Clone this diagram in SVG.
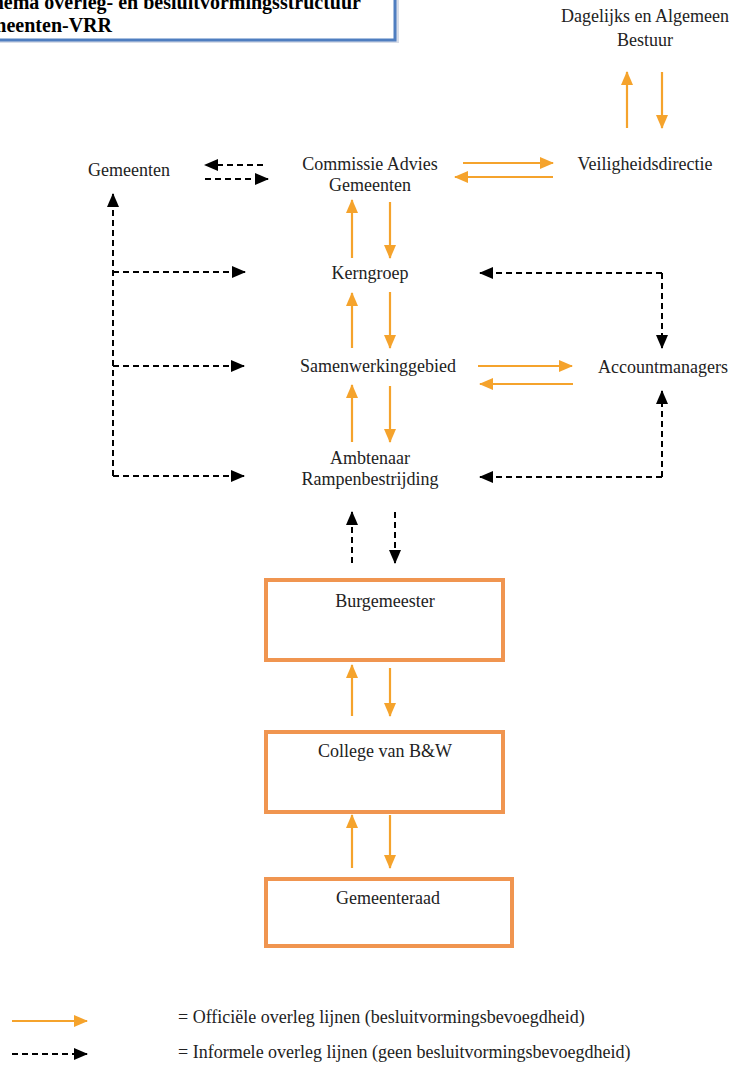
<svg xmlns="http://www.w3.org/2000/svg" width="734" height="1066" viewBox="0 0 734 1066">
<defs>
<marker id="ao" markerUnits="userSpaceOnUse" markerWidth="14" markerHeight="14" viewBox="0 0 14 14" refX="13" refY="7" orient="auto"><path d="M0,1 L14,7 L0,13 Z" fill="#f5a32c"/></marker>
<marker id="ab" markerUnits="userSpaceOnUse" markerWidth="14" markerHeight="14" viewBox="0 0 14 14" refX="13" refY="7" orient="auto"><path d="M0,1 L14,7 L0,13 Z" fill="#000"/></marker>
</defs>
<style>
text{font-family:"Liberation Serif","Times New Roman",serif;font-size:18px;fill:#222;}
.t{font-weight:bold;font-size:20px;fill:#000;}
.o{stroke:#f5a32c;stroke-width:2.2;fill:none;marker-end:url(#ao);}
.d{stroke:#000;stroke-width:2;stroke-dasharray:6,4;fill:none;}
.da{marker-end:url(#ab);}
.box{fill:#fff;stroke:#f09550;stroke-width:4;}
</style>
<rect width="734" height="1066" fill="#fff"/>
<g id="title">
<rect x="-10" y="-10" width="409" height="53" fill="#d8dde8"/>
<rect x="-10" y="-10" width="405" height="50" fill="#fff" stroke="#4f7ec0" stroke-width="3"/>
<text class="t" x="361" y="9" text-anchor="end">Schema overleg- en besluitvormingsstructuur</text>
<text class="t" x="112" y="32" text-anchor="end">Gemeenten-VRR</text>
</g>
<g id="bestuur"><text x="645" y="22" text-anchor="middle">Dagelijks en Algemeen</text><text x="645" y="46" text-anchor="middle">Bestuur</text></g>
<g id="gemeenten"><text x="129" y="176" text-anchor="middle">Gemeenten</text></g>
<g id="commissie"><text x="370" y="170" text-anchor="middle">Commissie Advies</text><text x="370" y="191" text-anchor="middle">Gemeenten</text></g>
<g id="veiligheidsdirectie"><text x="645" y="170" text-anchor="middle">Veiligheidsdirectie</text></g>
<g id="kerngroep"><text x="370" y="279" text-anchor="middle">Kerngroep</text></g>
<g id="samenwerkinggebied"><text x="378" y="372" text-anchor="middle">Samenwerkinggebied</text></g>
<g id="accountmanagers"><text x="663" y="373" text-anchor="middle">Accountmanagers</text></g>
<g id="ambtenaar"><text x="370" y="464" text-anchor="middle">Ambtenaar</text><text x="370" y="485" text-anchor="middle">Rampenbestrijding</text></g>
<g id="burgemeester"><rect class="box" x="266" y="580" width="237" height="80"/><text x="385" y="607" text-anchor="middle">Burgemeester</text></g>
<g id="college"><rect class="box" x="266" y="732" width="237" height="80"/><text x="385" y="757" text-anchor="middle">College van B&amp;W</text></g>
<g id="gemeenteraad"><rect class="box" x="266" y="879" width="246" height="67"/><text x="388" y="904" text-anchor="middle">Gemeenteraad</text></g>
<g id="connectors">
<line class="o" x1="627" y1="128" x2="627" y2="72"/>
<line class="o" x1="662" y1="72" x2="662" y2="128"/>
<line class="d da" x1="263" y1="165" x2="205" y2="165"/>
<line class="d da" x1="205" y1="179" x2="268" y2="179"/>
<line class="o" x1="463" y1="163" x2="553" y2="163"/>
<line class="o" x1="553" y1="177" x2="455" y2="177"/>
<line class="o" x1="352" y1="258" x2="352" y2="200"/>
<line class="o" x1="390" y1="202" x2="390" y2="258"/>
<line class="o" x1="352" y1="348" x2="352" y2="293"/>
<line class="o" x1="390" y1="292" x2="390" y2="348"/>
<line class="o" x1="352" y1="442" x2="352" y2="385"/>
<line class="o" x1="390" y1="386" x2="390" y2="442"/>
<line class="o" x1="478" y1="366" x2="572" y2="366"/>
<line class="o" x1="573" y1="384" x2="480" y2="384"/>
<path class="d da" d="M113,476 L113,194"/>
<line class="d da" x1="113" y1="272" x2="245" y2="272"/>
<line class="d da" x1="113" y1="366" x2="244" y2="366"/>
<line class="d da" x1="113" y1="476" x2="244" y2="476"/>
<path class="d da" d="M662,273 L662,348"/>
<path class="d da" d="M662,273 L480,273"/>
<path class="d da" d="M662,477 L662,391"/>
<path class="d da" d="M662,477 L480,477"/>
<line class="d da" x1="352" y1="563" x2="352" y2="512"/>
<line class="d da" x1="395" y1="512" x2="395" y2="563"/>
<line class="o" x1="352" y1="716" x2="352" y2="665"/>
<line class="o" x1="390" y1="668" x2="390" y2="716"/>
<line class="o" x1="352" y1="868" x2="352" y2="815"/>
<line class="o" x1="390" y1="815" x2="390" y2="868"/>
</g>
<g id="legend">
<line class="o" x1="12" y1="1021" x2="87" y2="1021"/>
<line class="d da" x1="12" y1="1054" x2="87" y2="1054"/>
<text x="178" y="1023">= Officiële overleg lijnen (besluitvormingsbevoegdheid)</text>
<text x="178" y="1058">= Informele overleg lijnen (geen besluitvormingsbevoegdheid)</text>
</g>
</svg>
